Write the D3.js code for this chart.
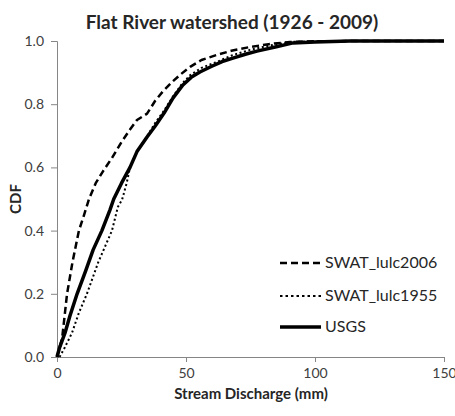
<!DOCTYPE html>
<html>
<head>
<meta charset="utf-8">
<script src="https://cdn.jsdelivr.net/npm/d3@7"></script>
<style>
  body { margin: 0; background: #fff; }
  svg { display: block; font-family: Lato, "Open Sans", sans-serif; }
</style>
</head>
<body>
<div id="chart"></div>
<script>
// discharge (mm) vs CDF
const lulc2006X = [0, 1, 2, 3.9, 6, 8.5, 10.5, 12.4, 15, 18, 21.3, 25, 28.3, 31, 34.9, 38, 41, 44.6, 48, 51.6, 56, 62, 68, 74.8, 82, 90.3, 100, 120, 150];
const lulc2006Y = [0, 0.03, 0.06, 0.2, 0.3, 0.4, 0.45, 0.5, 0.55, 0.59, 0.63, 0.68, 0.72, 0.75, 0.77, 0.81, 0.84, 0.87, 0.895, 0.918, 0.94, 0.956, 0.97, 0.981, 0.99, 0.997, 0.999, 1.0, 1.0];

const lulc1955X = [1, 3, 5.8, 8.5, 11.6, 16, 21.3, 23.6, 25.2, 27, 28.3, 31, 35, 38, 41.5, 45, 48.5, 51.6, 56, 62, 68, 74.8, 82, 90.3, 100, 120, 150];
const lulc1955Y = [0, 0.03, 0.076, 0.14, 0.2, 0.3, 0.4, 0.475, 0.497, 0.55, 0.6, 0.65, 0.7, 0.74, 0.78, 0.825, 0.865, 0.892, 0.915, 0.934, 0.955, 0.972, 0.985, 0.997, 0.999, 1.0, 1.0];

const usgsX = [0, 1, 3.1, 5, 7.8, 11, 14, 17.4, 20.5, 22, 25, 28.3, 31, 34.9, 38, 41.5, 45, 48.8, 52, 55.4, 60, 64, 68.2, 73, 77.5, 85, 91.5, 100, 113.6, 150];
const usgsY = [0, 0.03, 0.076, 0.13, 0.2, 0.27, 0.339, 0.4, 0.465, 0.5, 0.55, 0.6, 0.65, 0.696, 0.73, 0.772, 0.82, 0.861, 0.885, 0.902, 0.92, 0.935, 0.946, 0.958, 0.968, 0.982, 0.994, 0.997, 1.0, 1.0];

const xTicks = [0, 50, 100, 150];
const yTicks = [0, 0.2, 0.4, 0.6, 0.8, 1.0];

const seriesNames = ["SWAT_lulc2006", "SWAT_lulc1955", "USGS"];

const width = 455, height = 416;

const svg = d3.select("#chart").append("svg")
    .attr("width", width)
    .attr("height", height);

const x = d3.scaleLinear().domain([0, 150]).range([57, 444]);
const y = d3.scaleLinear().domain([0, 1]).range([357, 41]);

const styles = {
    "SWAT_lulc2006": { w: 2.5, dash: "7,4" },
    "SWAT_lulc1955": { w: 2, dash: "2,2.6" },
    "USGS": { w: 3.5, dash: null }
};

const series = [
    { name: "SWAT_lulc1955", xs: lulc1955X, ys: lulc1955Y },
    { name: "SWAT_lulc2006", xs: lulc2006X, ys: lulc2006Y },
    { name: "USGS", xs: usgsX, ys: usgsY }
];

// axes
const yAxis = svg.append("g")
    .attr("transform", `translate(${x(0)},0)`)
    .call(d3.axisLeft(y).tickValues(yTicks).tickFormat(d3.format(".1f")).tickSize(6).tickPadding(7));

const xAxis = svg.append("g")
    .attr("transform", `translate(0,${y(0)})`)
    .call(d3.axisBottom(x).tickValues(xTicks).tickFormat(d3.format("d")).tickSize(5).tickPadding(6));

[yAxis, xAxis].forEach(a => {
    a.select(".domain").attr("stroke", "#868686");
    a.selectAll(".tick line").attr("stroke", "#868686");
    a.selectAll("text")
        .style("font-size", "14px")
        .style("font-family", "Lato, sans-serif")
        .attr("fill", "#404040");
});

const line = d3.line()
    .x(d => x(d[0]))
    .y(d => y(d[1]));

svg.selectAll(".curve")
    .data(series)
    .enter().append("path")
    .attr("class", "curve")
    .attr("d", d => line(d.xs.map((v, i) => [v, d.ys[i]])))
    .attr("fill", "none")
    .attr("stroke", "#000")
    .attr("stroke-width", d => styles[d.name].w)
    .attr("stroke-dasharray", d => styles[d.name].dash)
    .attr("stroke-linejoin", "round");

// title and axis labels
svg.append("text")
    .attr("x", 232)
    .attr("y", 29)
    .attr("text-anchor", "middle")
    .style("font-size", "19px")
    .style("font-weight", "bold")
    .attr("fill", "#262626")
    .text("Flat River watershed (1926 - 2009)");

svg.append("text")
    .attr("x", 251)
    .attr("y", 399)
    .attr("text-anchor", "middle")
    .style("font-size", "15px")
    .style("font-weight", "bold")
    .attr("fill", "#262626")
    .text("Stream Discharge (mm)");

svg.append("text")
    .attr("transform", "translate(21,199) rotate(-90)")
    .attr("text-anchor", "middle")
    .style("font-size", "15px")
    .style("font-weight", "bold")
    .attr("fill", "#262626")
    .text("CDF");

// legend
const legend = svg.append("g");
const legendY = [263, 296, 327];

legend.selectAll("line")
    .data(seriesNames)
    .enter().append("line")
    .attr("x1", 280)
    .attr("x2", 321)
    .attr("y1", (d, i) => legendY[i])
    .attr("y2", (d, i) => legendY[i])
    .attr("stroke", "#000")
    .attr("stroke-width", d => styles[d].w)
    .attr("stroke-dasharray", d => d === "SWAT_lulc1955" ? "2.5,3" : styles[d].dash);

legend.selectAll("text")
    .data(seriesNames)
    .enter().append("text")
    .attr("x", 325)
    .attr("y", (d, i) => legendY[i] + 5)
    .style("font-size", "16px")
    .attr("fill", "#262626")
    .text(d => d);
</script>
</body>
</html>
